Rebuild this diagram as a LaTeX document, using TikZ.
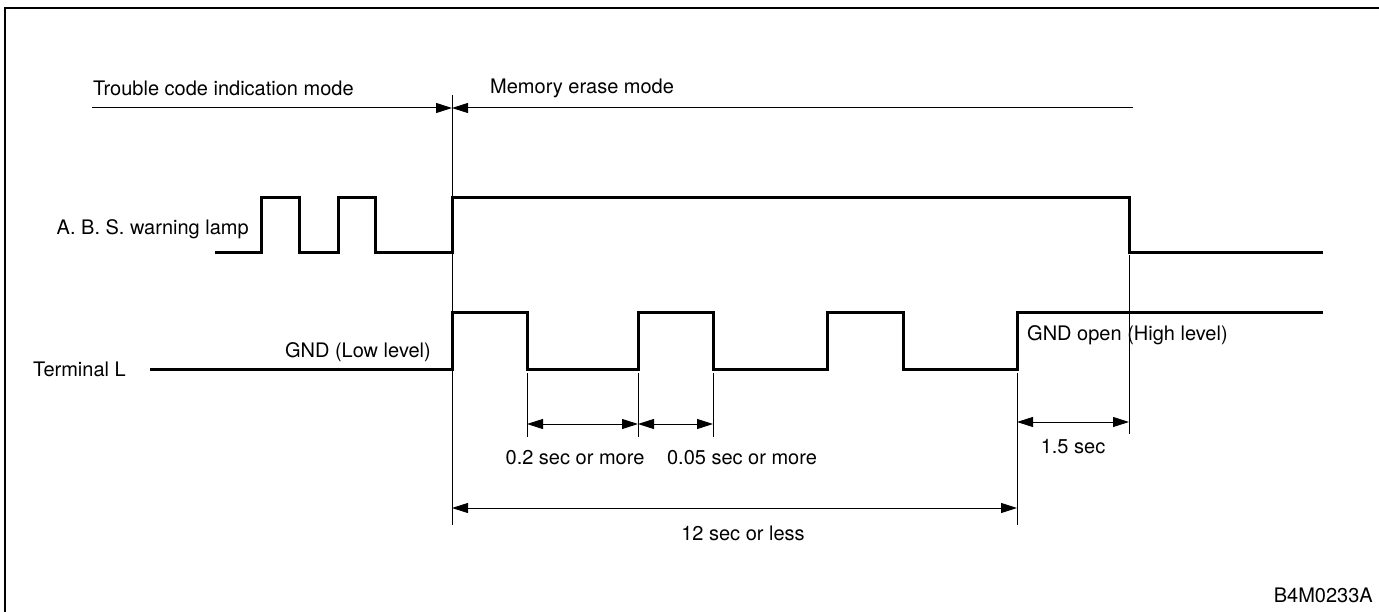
\documentclass[tikz,border=0pt]{standalone}
\usepackage{fontspec}
\setmainfont{TeX Gyre Heros}
\usetikzlibrary{arrows.meta}
\tikzstyle{signal} = [line width=3pt, line join=miter]
\tikzstyle{guide} = [line width=0.9pt]
\tikzstyle{dim} = [line width=1pt, {Triangle[length=16pt,width=10pt]}-{Triangle[length=16pt,width=10pt]}]
\tikzstyle{half} = [line width=1pt, -{Triangle[length=16pt,width=10pt]}]
\tikzstyle{txt} = [font=\fontsize{20}{24}\selectfont, inner sep=0pt]

\begin{document}
\begin{tikzpicture}[x=1pt,y=-1pt]
\useasboundingbox (0,0) rectangle (1379,612);
\draw [line width=1.5pt] (5,612) -- (5,8) -- (1379,8);

% modes
\node(trouble) [txt, anchor=west] at (93,88) {Trouble code indication mode};
\node(memory)  [txt, anchor=west] at (490,88) {Memory erase mode};
\coordinate (troublestart) at (92,108);
\coordinate (split) at (452,108);
\coordinate (memoryend) at (1133,108);
\draw [half] (troublestart) -- (split);
\draw [half] (memoryend) -- (split);

% signals
\node(lamp) [txt, anchor=east] at (249,229) {A. B. S. warning lamp};
\node(terminal) [txt, anchor=west] at (33,369) {Terminal L};
\draw [signal] (215,253) -- (261,253) -- (261,198) -- (299,198) -- (299,253) -- (338,253) -- (338,198) -- (375,198) -- (375,253) -- (452,253) -- (452,198) -- (1129,198) -- (1129,253) -- (1323,253);
\draw [signal] (150,369) -- (452,369) -- (452,313) -- (527,313) -- (527,369) -- (638,369) -- (638,313) -- (713,313) -- (713,369) -- (827,369) -- (827,313) -- (903,313) -- (903,369) -- (1017,369) -- (1017,313) -- (1323,313);
\node(gndlow)  [txt, anchor=east] at (431,352) {GND (Low level)};
\node(gndopen) [txt, anchor=west] at (1027,335) {GND open (High level)};

% guide lines
\draw [guide] (452,95) -- (452,525);
\draw [guide] (527,373) -- (527,437);
\draw [guide] (638,373) -- (638,437);
\draw [guide] (713,373) -- (713,437);
\draw [guide] (1017,373) -- (1017,525);
\draw [guide] (1129,255) -- (1129,434);

% dimensions
\coordinate (p1) at (527,424);
\coordinate (p2) at (638,424);
\coordinate (p3) at (713,424);
\coordinate (q1) at (452,508);
\coordinate (q2) at (1017,508);
\coordinate (s1) at (1017,422);
\coordinate (s2) at (1129,422);
\draw [dim] (p1) -- (p2);
\draw [dim] (p2) -- (p3);
\draw [dim] (q1) -- (q2);
\draw [dim] (s1) -- (s2);
\node(first)  [txt] at (575,458) {0.2 sec or more};
\node(second) [txt] at (742,458) {0.05 sec or more};
\node(total)  [txt] at (743,533) {12 sec or less};
\node(delay)  [txt] at (1073,447) {1.5 sec};
\node(code)   [txt, anchor=east] at (1373,595) {B4M0233A};

\end{tikzpicture}
\end{document}
